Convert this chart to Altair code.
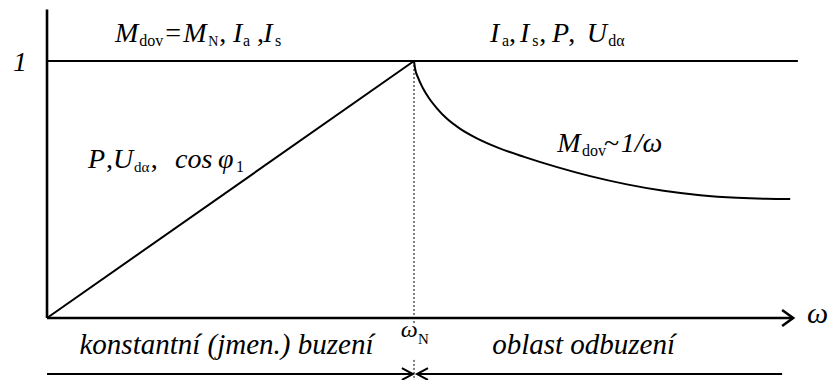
import altair as alt
import pandas as pd

# --- data (ω in units of ω_N, M in units of M_N) -----------------------------
curve_w = [1.000, 1.003, 1.011, 1.024, 1.041, 1.063, 1.090, 1.125, 1.170, 1.230,
           1.300, 1.390, 1.480, 1.580, 1.680, 1.780, 1.880, 1.960, 2.025]
curve_m = [1.000, 0.970, 0.935, 0.895, 0.855, 0.815, 0.775, 0.737, 0.700, 0.662,
           0.627, 0.587, 0.552, 0.520, 0.495, 0.478, 0.468, 0.464, 0.463]

W_MIN, W_MAX = -0.1281, 2.1362
M_MIN, M_MAX = -0.2412, 1.2374

# polylines: (segment, [(ω, M), ...])
axes_segments = [
    ("yaxis", [(0, 0), (0, 1.200)]),
    ("xaxis", [(0, 0), (2.033, 0)]),
    ("xarrow", [(2.003, 0.031), (2.033, 0), (2.003, -0.031)]),
]
thin_segments = [
    ("limit", [(0, 1), (2.046, 1)]),
    ("ramp", [(0, 0), (1, 1)]),
    ("left_arrow", [(0, -0.218), (0.997, -0.218)]),
    ("left_head", [(0.967, -0.195), (0.997, -0.218), (0.967, -0.241)]),
    ("right_arrow", [(1.008, -0.218), (2.003, -0.218)]),
    ("right_head", [(1.038, -0.195), (1.008, -0.218), (1.038, -0.241)]),
]
dashed_segments = [
    ("wn_top", [(1, 1), (1, -0.027)]),
    ("wn_bottom", [(1, -0.163), (1, -0.2412)]),
]

MAIN, SUB = 28, 16

# text pieces: (text, ω, M, size, italic)
labels = [
    # M_dov = M_N, I_a, I_s
    ("M", 0.185, 1.074, MAIN, True), ("dov", 0.251, 1.058, SUB, False),
    ("=", 0.322, 1.074, MAIN, False), ("M", 0.371, 1.074, MAIN, True),
    ("N", 0.439, 1.058, SUB - 2, False), (",", 0.469, 1.074, MAIN, False),
    ("I", 0.507, 1.074, MAIN, True), ("a", 0.534, 1.058, SUB, False),
    (",", 0.572, 1.074, MAIN, False), ("I", 0.589, 1.074, MAIN, True),
    ("s", 0.621, 1.058, SUB, False),
    # I_a, I_s, P, U_dα
    ("I", 1.207, 1.074, MAIN, True), ("a", 1.240, 1.058, SUB, False),
    (",", 1.259, 1.074, MAIN, False), ("I", 1.289, 1.074, MAIN, True),
    ("s", 1.322, 1.058, SUB, False), (",", 1.341, 1.074, MAIN, False),
    ("P", 1.376, 1.074, MAIN, True), (",", 1.420, 1.074, MAIN, False),
    ("U", 1.471, 1.074, MAIN, True), ("dα", 1.529, 1.058, SUB, False),
    # P, U_dα, cos φ_1
    ("P", 0.112, 0.584, MAIN, True), (",", 0.161, 0.584, MAIN, False),
    ("U", 0.180, 0.584, MAIN, True), ("dα", 0.237, 0.568, SUB - 1, False),
    (",", 0.283, 0.584, MAIN, False), ("cos", 0.349, 0.584, MAIN, True),
    ("φ", 0.466, 0.584, MAIN, True), ("1", 0.515, 0.568, SUB, False),
    # M_dov ~ 1/ω
    ("M", 1.390, 0.646, MAIN, True), ("dov", 1.458, 0.630, SUB, False),
    ("~", 1.518, 0.646, MAIN, False), ("1/ω", 1.563, 0.646, MAIN, True),
    # axis labels
    ("1", -0.093, 0.961, MAIN, True),
    ("ω", 2.071, -0.019, 30, True),
    ("ω", 0.964, -0.074, 24, True), ("N", 1.011, -0.101, 15, False),
]
region_labels = [
    ("konstantní (jmen.) buzení", 0.489, -0.140),
    ("oblast odbuzení", 1.462, -0.140),
]

FONT = "Liberation Serif, Times New Roman, serif"


def seg_frame(segments):
    rows = []
    for name, pts in segments:
        for i, (w, m) in enumerate(pts):
            rows.append({"seg": name, "i": i, "w": w, "m": m})
    return pd.DataFrame(rows)


xs = alt.Scale(domain=[W_MIN, W_MAX], nice=False, zero=False)
ys = alt.Scale(domain=[M_MIN, M_MAX], nice=False, zero=False)
X = alt.X("w:Q", scale=xs, axis=None)
Y = alt.Y("m:Q", scale=ys, axis=None)


def polyline(segments, width, dash=None):
    kw = {"strokeWidth": width, "color": "black", "clip": False}
    if dash:
        kw["strokeDash"] = dash
    return alt.Chart(seg_frame(segments)).mark_line(**kw).encode(
        x=X, y=Y, detail="seg:N", order="i:Q"
    )


curve_df = pd.DataFrame({"w": curve_w, "m": curve_m})
curve = alt.Chart(curve_df).mark_line(
    color="black", strokeWidth=2, interpolate="monotone"
).encode(x=X, y=Y)

lab_df = pd.DataFrame(labels, columns=["text", "w", "m", "size", "italic"])


def text_layer(italic):
    d = lab_df[lab_df["italic"] == italic]
    return alt.Chart(d).mark_text(
        font=FONT, fontStyle="italic" if italic else "normal",
        align="left", baseline="alphabetic", color="black",
    ).encode(x=X, y=Y, text="text:N", size=alt.Size("size:Q", scale=None))


reg_df = pd.DataFrame(region_labels, columns=["text", "w", "m"])
regions = alt.Chart(reg_df).mark_text(
    font=FONT, fontStyle="italic", fontSize=29, align="center",
    baseline="alphabetic", color="black",
).encode(x=X, y=Y, text="text:N")

chart = alt.layer(
    polyline(dashed_segments, 1, [2, 2]),
    polyline(thin_segments, 2),
    polyline(axes_segments, 2.6),
    curve,
    text_layer(True),
    text_layer(False),
    regions,
).properties(
    width=831, height=380, autosize="none", padding=0,
    background="white",
).configure_view(stroke=None)

chart.save("out.html", embed_options={"renderer": "svg", "actions": False})
